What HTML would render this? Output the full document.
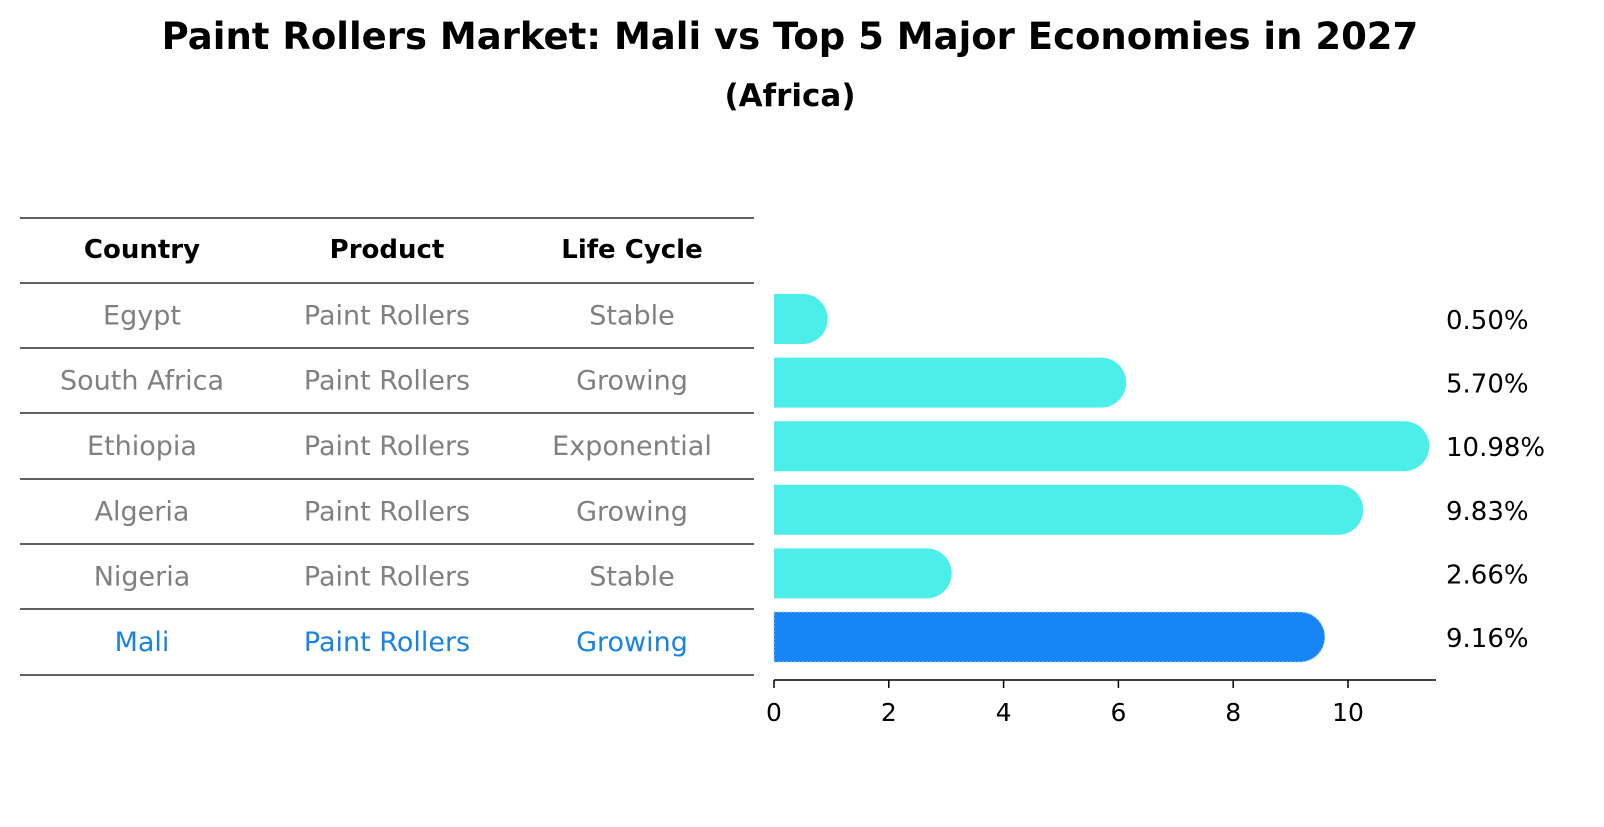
<!DOCTYPE html>
<html><head><meta charset="utf-8"><style>
body{margin:0;background:#fff;font-family:"DejaVu Sans","Liberation Sans",sans-serif;}
</style></head><body>
<svg width="1604" height="823" viewBox="0 0 1604 823" font-family="DejaVu Sans, Liberation Sans, sans-serif">
<text x="790" y="49" text-anchor="middle" font-size="37" font-weight="bold">Paint Rollers Market: Mali vs Top 5 Major Economies in 2027</text>
<text x="790" y="106" text-anchor="middle" font-size="31" font-weight="bold">(Africa)</text>
<g id="table"></g>
<g id="bars"></g>
</svg>
<script>
const countries=["Egypt","South Africa","Ethiopia","Algeria","Nigeria","Mali"];
const products=["Paint Rollers","Paint Rollers","Paint Rollers","Paint Rollers","Paint Rollers","Paint Rollers"];
const lifecycles=["Stable","Growing","Exponential","Growing","Stable","Growing"];
const values=[0.50,5.70,10.98,9.83,2.66,9.16];
const ticks=[0,2,4,6,8,10];
const NS="http://www.w3.org/2000/svg";
function mk(p,t,a,txt){const e=document.createElementNS(NS,t);for(const k in a)e.setAttribute(k,a[k]);if(txt!==undefined)e.textContent=txt;p.appendChild(e);return e;}
const tbl=document.getElementById('table');
const lineYs=[218,283,348,413,479,544,609,675];
lineYs.forEach(y=>{const l=mk(tbl,'line',{x1:20,x2:754,y1:y,y2:y,stroke:'#000','stroke-width':1.2});

});
const cx=[142,387,632];
["Country","Product","Life Cycle"].forEach((h,i)=>{const t=mk(tbl,'text',{x:cx[i],y:258,'text-anchor':'middle','font-size':26,'font-weight':'bold'},h);

});
countries.forEach((c,r)=>{const y=(lineYs[r+1]+lineYs[r+2])/2+9;const col=c==="Mali"?'#1a82e0':'#808080';
[c,products[r],lifecycles[r]].forEach((v,i)=>{const t=mk(tbl,'text',{x:cx[i],y:y,'text-anchor':'middle','font-size':27,fill:col},v);

});});
const bg=document.getElementById('bars');
const x0=774,scale=57.4;
const xs=v=>x0+v*scale;
const rowY=r=>319+r*63.6;
const h=50;
values.forEach((v,r)=>{const cy=rowY(r);const isMali=countries[r]==="Mali";const fill=isMali?'#1785f5':'#4beee9';
const xe=xs(v);
const p=mk(bg,'path',{d:`M${x0},${cy-h/2} H${xe} A${h/2},${h/2} 0 0 1 ${xe},${cy+h/2} H${x0} Z`,fill:fill});
if(isMali){p.setAttribute('stroke','#9fd0ff');p.setAttribute('stroke-width','1');p.setAttribute('stroke-dasharray','2,2');}


const t=mk(bg,'text',{x:1446,y:cy+10,'font-size':26},v.toFixed(2)+'%');


});
const ax=mk(bg,'line',{x1:x0,x2:1436,y1:680,y2:680,stroke:'#000','stroke-width':1.5});


ticks.forEach(tv=>{const x=xs(tv);const l=mk(bg,'line',{x1:x,x2:x,y1:680,y2:688,stroke:'#000','stroke-width':1.5});


const t=mk(bg,'text',{x:x,y:721,'text-anchor':'middle','font-size':25},String(tv));

});
</script>
</body></html>
